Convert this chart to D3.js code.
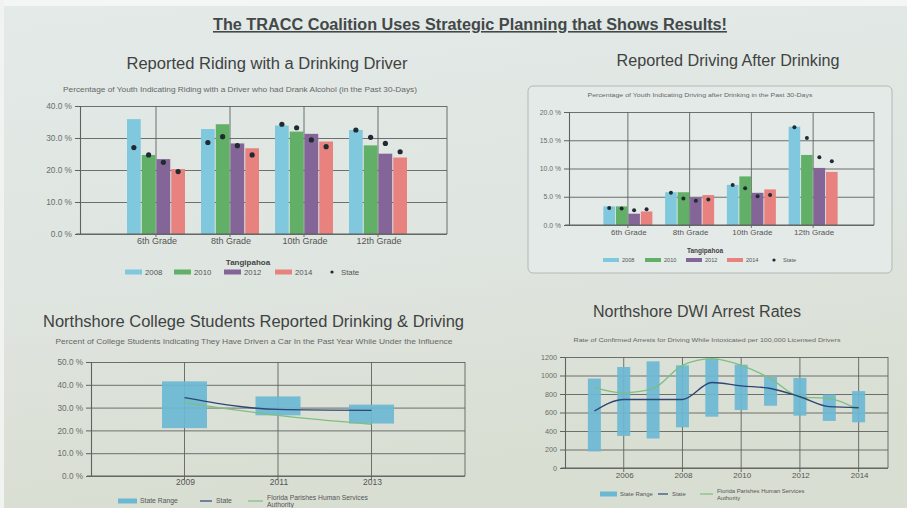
<!DOCTYPE html>
<html>
<head>
<meta charset="utf-8">
<script src="https://cdn.jsdelivr.net/npm/d3@7/dist/d3.min.js"></script>
<style>
  html, body { margin: 0; padding: 0; background: #dfe5e1; }
  svg { display: block; font-family: "Liberation Sans", Arial, sans-serif; }
</style>
</head>
<body>
<svg id="chart" width="907" height="508"></svg>
<script>
// ---------------- DATA ----------------
const mainTitle = "The TRACC Coalition Uses Strategic Planning that Shows Results!";

const grades = ["6th Grade", "8th Grade", "10th Grade", "12th Grade"];
const surveyYears = ["2008", "2010", "2012", "2014"];

// Reported Riding with a Drinking Driver (Tangipahoa, %)
const riding2008 = [35.9, 32.8, 33.9, 32.5];
const riding2010 = [24.7, 34.3, 32.0, 27.7];
const riding2012 = [23.4, 28.3, 31.3, 25.1];
const riding2014 = [20.3, 26.8, 28.9, 23.9];
// State values (dots)
const ridingState2008 = [27.0, 28.6, 34.3, 32.5];
const ridingState2010 = [24.7, 30.4, 33.2, 30.2];
const ridingState2012 = [22.4, 27.6, 29.4, 28.3];
const ridingState2014 = [19.5, 24.7, 27.3, 25.7];
const ridingTicks = [0, 10, 20, 30, 40];

// Reported Driving After Drinking (Tangipahoa, %)
const driving2008 = [3.3, 5.8, 7.1, 17.4];
const driving2010 = [3.3, 5.8, 8.6, 12.4];
const driving2012 = [2.0, 4.9, 5.7, 10.1];
const driving2014 = [2.4, 5.3, 6.3, 9.4];
const drivingState2008 = [3.0, 5.7, 7.1, 17.3];
const drivingState2010 = [2.9, 4.7, 6.5, 15.4];
const drivingState2012 = [2.6, 4.3, 5.1, 12.0];
const drivingState2014 = [2.8, 4.5, 5.3, 11.3];
const drivingTicks = [0, 5, 10, 15, 20];

// Northshore College Students Reported Drinking & Driving (%)
const collegeYears = [2009, 2011, 2013];
const collegeRangeLow = [21.0, 26.6, 23.0];
const collegeRangeHigh = [41.5, 34.9, 31.3];
const collegeState = [34.4, 29.2, 28.8];
const collegeFPHSA = [32.2, 26.6, 22.7];
const collegeTicks = [0, 10, 20, 30, 40, 50];

// Northshore DWI Arrest Rates (per 100,000 licensed drivers)
const dwiYears = [2005, 2006, 2007, 2008, 2009, 2010, 2011, 2012, 2013, 2014];
const dwiRangeLow = [179, 347, 319, 440, 555, 627, 673, 566, 509, 494];
const dwiRangeHigh = [967, 1092, 1153, 1110, 1182, 1117, 985, 974, 795, 831];
const dwiState = [616, 741, 741, 741, 924, 888, 860, 770, 663, 652];
const dwiFPHSA = [870, 813, 860, 1110, 1182, 1110, 967, 770, 752, 627];
const dwiTicks = [0, 200, 400, 600, 800, 1000, 1200];
const dwiYearTicks = [2006, 2008, 2010, 2012, 2014];

// ---------------- STYLE ----------------
const yearColors = ["#7fc8de", "#62b067", "#846598", "#e8827f"];
const rangeColor = "#6cb8d3";
const stateLineColor = "#2c4676";
const fphsaColor = "#7dbf80";
const gridColor = "#5f6360";
const textColor = "#555";
const titleColor = "#3f4242";

const svg = d3.select("#chart");

// background
const defs = svg.append("defs");
const bg = defs.append("linearGradient").attr("id", "bg").attr("x1", 0).attr("y1", 0).attr("x2", 0.2).attr("y2", 1);
bg.append("stop").attr("offset", "0%").attr("stop-color", "#e3eae8");
bg.append("stop").attr("offset", "55%").attr("stop-color", "#dfe5e0");
bg.append("stop").attr("offset", "100%").attr("stop-color", "#d9ded2");
svg.append("rect").attr("width", 907).attr("height", 508).attr("fill", "url(#bg)");
svg.append("rect").attr("x", 0).attr("y", 0).attr("width", 907).attr("height", 6).attr("fill", "#f4f6f5");
svg.append("rect").attr("x", 0).attr("y", 0).attr("width", 4).attr("height", 508).attr("fill", "#f1f3f1");

// panel behind chart 2
svg.append("rect").attr("x", 528).attr("y", 86).attr("width", 364).attr("height", 187)
  .attr("rx", 5).attr("fill", "#e4eae8").attr("stroke", "#b3b8b5").attr("stroke-width", 1);

// main title
svg.append("text").attr("x", 470).attr("y", 30).attr("text-anchor", "middle")
  .attr("font-size", 16).attr("font-weight", "bold").attr("fill", "#434849")
  .attr("textLength", 514).attr("lengthAdjust", "spacingAndGlyphs")
  .attr("text-decoration", "underline").text(mainTitle);

function yAxisAndGrid(g, y, ticks, left, right, fmt, fs) {
  // horizontal grid
  g.append("g").attr("transform", `translate(${left},0)`)
    .call(d3.axisLeft(y).tickValues(ticks).tickSize(-(right - left)).tickFormat(""))
    .call(s => s.select(".domain").remove())
    .call(s => s.selectAll("line").attr("stroke", gridColor).attr("stroke-width", 0.9));
  // ticks and labels
  g.append("g").attr("transform", `translate(${left},0)`)
    .call(d3.axisLeft(y).tickValues(ticks).tickSize(5).tickPadding(3).tickFormat(fmt))
    .call(s => s.select(".domain").attr("stroke", gridColor).attr("stroke-width", 1.1))
    .call(s => s.selectAll("line").attr("stroke", gridColor))
    .call(s => s.selectAll("text").attr("fill", "#6a6d6b").attr("font-size", fs)
      .attr("font-family", "'Liberation Sans', Arial, sans-serif"));
  // right border
  g.append("line").attr("x1", right).attr("x2", right)
    .attr("y1", y.range()[1]).attr("y2", y.range()[0])
    .attr("stroke", gridColor).attr("stroke-width", 0.9);
}

// ---------------- GROUPED BAR CHART ----------------
function barChart(opts) {
  const g = svg.append("g");
  const y = d3.scaleLinear().domain(opts.yDomain).range([opts.bottom, opts.top]);
  const x0 = d3.scaleBand().domain(grades).range(opts.bandRange).padding(0);
  const x1 = d3.scaleBand().domain(surveyYears).range([-opts.groupW / 2, opts.groupW / 2]).paddingInner(0.07);

  yAxisAndGrid(g, y, opts.ticks, opts.left, opts.right, d => d3.format(".1f")(d) + " %", opts.tickFs);

  // vertical grid at categories
  g.selectAll(".vg").data(grades).join("line")
    .attr("x1", d => x0(d) + x0.bandwidth() / 2).attr("x2", d => x0(d) + x0.bandwidth() / 2)
    .attr("y1", opts.top).attr("y2", opts.bottom + 3)
    .attr("stroke", gridColor).attr("stroke-width", 0.9);

  const series = opts.values;
  surveyYears.forEach((yr, i) => {
    g.selectAll(null).data(series[i]).join("rect")
      .attr("x", (d, j) => x0(grades[j]) + x0.bandwidth() / 2 + x1(yr))
      .attr("width", x1.bandwidth())
      .attr("y", d => y(d))
      .attr("height", d => y(0) - y(d))
      .attr("fill", yearColors[i]);
  });
  surveyYears.forEach((yr, i) => {
    g.selectAll(null).data(opts.state[i]).join("circle")
      .attr("cx", (d, j) => x0(grades[j]) + x0.bandwidth() / 2 + x1(yr) + x1.bandwidth() / 2)
      .attr("cy", d => y(d))
      .attr("r", opts.dotR)
      .attr("fill", "#1f2a33");
  });

  // x axis line
  g.append("line").attr("x1", opts.left - 4).attr("x2", opts.right)
    .attr("y1", y(0)).attr("y2", y(0)).attr("stroke", gridColor).attr("stroke-width", 1.1);

  // category labels
  g.selectAll(null).data(grades).join("text")
    .attr("x", d => x0(d) + x0.bandwidth() / 2 + 1)
    .attr("y", opts.bottom + opts.catDy)
    .attr("text-anchor", "middle").attr("font-size", opts.catFs).attr("fill", textColor)
    .text(d => d);

  // titles
  g.append("text").attr("x", opts.titleX).attr("y", opts.titleY).attr("text-anchor", "middle")
    .attr("font-size", 16).attr("fill", titleColor)
    .attr("textLength", opts.titleLen).attr("lengthAdjust", "spacingAndGlyphs").text(opts.title);
  g.append("text").attr("x", opts.subX).attr("y", opts.subY).attr("text-anchor", "middle")
    .attr("font-size", opts.subFs).attr("fill", "#666")
    .attr("textLength", opts.subLen).attr("lengthAdjust", "spacingAndGlyphs").text(opts.subtitle);

  // legend
  const L = opts.legend;
  g.append("text").attr("x", L.headX).attr("y", L.headY).attr("text-anchor", "middle")
    .attr("font-size", L.headFs).attr("font-weight", "bold").attr("fill", "#444").text("Tangipahoa");
  surveyYears.forEach((yr, i) => {
    g.append("rect").attr("x", L.xs[i]).attr("y", L.y - L.sh / 2).attr("width", L.sw).attr("height", L.sh)
      .attr("fill", yearColors[i]);
    g.append("text").attr("x", L.xs[i] + L.sw + 3).attr("y", L.y + L.fs * 0.35)
      .attr("font-size", L.fs).attr("fill", textColor).text(yr);
  });
  g.append("circle").attr("cx", L.dotX).attr("cy", L.y).attr("r", 1.6).attr("fill", "#1f2a33");
  g.append("text").attr("x", L.dotX + 9).attr("y", L.y + L.fs * 0.35)
    .attr("font-size", L.fs).attr("fill", textColor).text("State");
}

barChart({
  title: "Reported Riding with a Drinking Driver", titleX: 267, titleY: 69, titleLen: 281,
  subtitle: "Percentage of Youth Indicating Riding with a Driver who had Drank Alcohol (in the Past 30-Days)",
  subX: 240, subY: 92, subFs: 6.5, subLen: 354,
  values: [riding2008, riding2010, riding2012, riding2014],
  state: [ridingState2008, ridingState2010, ridingState2012, ridingState2014],
  yDomain: [0, 40], ticks: ridingTicks,
  left: 80, right: 447, top: 106, bottom: 234,
  bandRange: [119, 415], groupW: 58, dotR: 2.6,
  tickFs: 8.3, catFs: 9, catDy: 9.5,
  legend: { headX: 248, headY: 265, headFs: 8, y: 272, fs: 7.8, sw: 17, sh: 5,
            xs: [125, 174, 224, 275], dotX: 332 }
});

barChart({
  title: "Reported Driving After Drinking", titleX: 728, titleY: 66, titleLen: 223,
  subtitle: "Percentage of Youth Indicating Driving after Drinking in the Past 30-Days",
  subX: 700, subY: 97, subFs: 5.5, subLen: 225,
  values: [driving2008, driving2010, driving2012, driving2014],
  state: [drivingState2008, drivingState2010, drivingState2012, drivingState2014],
  yDomain: [0, 20], ticks: drivingTicks,
  left: 569, right: 874, top: 112, bottom: 225,
  bandRange: [597, 844], groupW: 49, dotR: 2.0,
  tickFs: 6.8, catFs: 8, catDy: 9.5,
  legend: { headX: 705, headY: 253, headFs: 6.5, y: 260, fs: 5.6, sw: 16, sh: 4,
            xs: [603, 645, 686, 727], dotX: 774 }
});

// ---------------- RANGE + LINE CHART ----------------
function rangeChart(opts) {
  const g = svg.append("g");
  const y = d3.scaleLinear().domain(opts.yDomain).range([opts.bottom, opts.top]);
  const x = d3.scaleLinear().domain(opts.xDomain).range([opts.left, opts.right]);

  yAxisAndGrid(g, y, opts.ticks, opts.left, opts.right, opts.fmt, opts.tickFs);

  g.selectAll(null).data(opts.xTicks).join("line")
    .attr("x1", d => x(d)).attr("x2", d => x(d))
    .attr("y1", opts.top).attr("y2", opts.bottom + 4)
    .attr("stroke", gridColor).attr("stroke-width", 0.9);

  g.append("line").attr("x1", opts.left - 4).attr("x2", opts.right)
    .attr("y1", y(0)).attr("y2", y(0)).attr("stroke", gridColor).attr("stroke-width", 1.1);

  g.selectAll(null).data(opts.years).join("rect")
    .attr("x", d => x(d) - opts.boxW / 2)
    .attr("width", opts.boxW)
    .attr("y", (d, i) => y(opts.high[i]))
    .attr("height", (d, i) => y(opts.low[i]) - y(opts.high[i]))
    .attr("fill", rangeColor).attr("opacity", 0.93);

  const line = (vals) => d3.line().x((d, i) => x(opts.years[i])).y(d => y(d)).curve(d3.curveMonotoneX)(vals);
  g.append("path").attr("d", line(opts.fphsa)).attr("fill", "none")
    .attr("stroke", fphsaColor).attr("stroke-width", 1.3);
  g.append("path").attr("d", line(opts.state)).attr("fill", "none")
    .attr("stroke", stateLineColor).attr("stroke-width", 1.4);

  g.selectAll(null).data(opts.xTicks).join("text")
    .attr("x", d => x(d) + 1).attr("y", opts.bottom + opts.catDy)
    .attr("text-anchor", "middle").attr("font-size", opts.catFs).attr("fill", textColor)
    .text(d => d);

  g.append("text").attr("x", opts.titleX).attr("y", opts.titleY).attr("text-anchor", opts.titleAnchor)
    .attr("font-size", 16).attr("fill", titleColor)
    .attr("textLength", opts.titleLen).attr("lengthAdjust", "spacingAndGlyphs").text(opts.title);
  g.append("text").attr("x", opts.subX).attr("y", opts.subY).attr("text-anchor", "middle")
    .attr("font-size", opts.subFs).attr("fill", "#666")
    .attr("textLength", opts.subLen).attr("lengthAdjust", "spacingAndGlyphs").text(opts.subtitle);

  const L = opts.legend;
  g.append("rect").attr("x", L.x1).attr("y", L.y - 2.5).attr("width", L.sw).attr("height", 5).attr("fill", rangeColor);
  g.append("text").attr("x", L.x1 + L.sw + 3).attr("y", L.y + L.fs * 0.35).attr("font-size", L.fs).attr("fill", textColor).text("State Range");
  g.append("line").attr("x1", L.x2).attr("x2", L.x2 + L.lw).attr("y1", L.y).attr("y2", L.y)
    .attr("stroke", stateLineColor).attr("stroke-width", 1.2);
  g.append("text").attr("x", L.x2 + L.lw + 4).attr("y", L.y + L.fs * 0.35).attr("font-size", L.fs).attr("fill", textColor).text("State");
  g.append("line").attr("x1", L.x3).attr("x2", L.x3 + L.lw + 3).attr("y1", L.y).attr("y2", L.y)
    .attr("stroke", fphsaColor).attr("stroke-width", 1.2);
  g.append("text").attr("x", L.x3 + L.lw + 7).attr("y", L.y - 1).attr("font-size", L.fs).attr("fill", textColor)
    .text("Florida Parishes Human Services");
  g.append("text").attr("x", L.x3 + L.lw + 7).attr("y", L.y + L.fs * 0.95).attr("font-size", L.fs).attr("fill", textColor)
    .text("Authority");
}

rangeChart({
  title: "Northshore College Students Reported Drinking & Driving",
  titleX: 43, titleY: 327, titleAnchor: "start", titleLen: 421,
  subtitle: "Percent of College Students Indicating They Have Driven a Car In the Past Year While Under the Influence",
  subX: 254, subY: 344, subFs: 6.5, subLen: 397,
  years: collegeYears, low: collegeRangeLow, high: collegeRangeHigh,
  state: collegeState, fphsa: collegeFPHSA,
  yDomain: [0, 50], ticks: collegeTicks, fmt: d => d3.format(".1f")(d) + " %",
  xDomain: [2007, 2015], xTicks: collegeYears,
  left: 91, right: 465, top: 362, bottom: 476, boxW: 45,
  tickFs: 8.2, catFs: 8.5, catDy: 9,
  legend: { y: 501, fs: 6.8, sw: 19, lw: 12, x1: 118, x2: 200, x3: 248 }
});

rangeChart({
  title: "Northshore DWI Arrest Rates",
  titleX: 697, titleY: 317, titleAnchor: "middle", titleLen: 208,
  subtitle: "Rate of Confirmed Arrests for Driving While Intoxicated per 100,000 Licensed Drivers",
  subX: 707, subY: 342, subFs: 5.5, subLen: 267,
  years: dwiYears, low: dwiRangeLow, high: dwiRangeHigh,
  state: dwiState, fphsa: dwiFPHSA,
  yDomain: [0, 1200], ticks: dwiTicks, fmt: d => String(d),
  xDomain: [2004, 2015], xTicks: dwiYearTicks,
  left: 565, right: 888, top: 357, bottom: 468, boxW: 13,
  tickFs: 7.2, catFs: 8, catDy: 10,
  legend: { y: 494, fs: 5.9, sw: 17, lw: 10, x1: 600, x2: 658, x3: 700 }
});
</script>
</body>
</html>
